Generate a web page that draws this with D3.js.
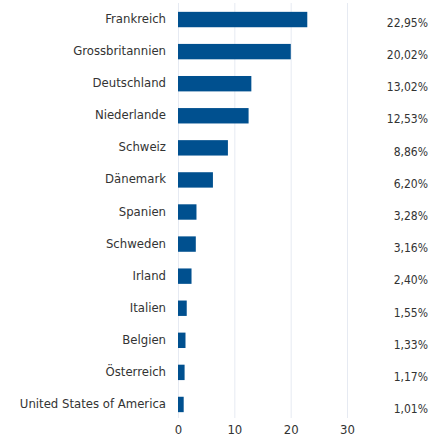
<!DOCTYPE html>
<html>
<head>
<meta charset="utf-8">
<script src="https://cdn.jsdelivr.net/npm/d3@7"></script>
<style>
  body { margin: 0; background: #fff; }
  text { font-family: "DejaVu Sans Condensed", "DejaVu Sans", sans-serif; }
</style>
</head>
<body>
<div id="graph"></div>
<script>
var countries = ["Frankreich", "Grossbritannien", "Deutschland", "Niederlande", "Schweiz", "Dänemark",
  "Spanien", "Schweden", "Irland", "Italien", "Belgien", "Österreich", "United States of America"];
var shares = [22.95, 20.02, 13.02, 12.53, 8.86, 6.20, 3.28, 3.16, 2.40, 1.55, 1.33, 1.17, 1.01];
var shareLabels = ["22,95%", "20,02%", "13,02%", "12,53%", "8,86%", "6,20%", "3,28%", "3,16%",
  "2,40%", "1,55%", "1,33%", "1,17%", "1,01%"];
var xTicks = [0, 10, 20, 30];

var width = 440, height = 438;

var x = d3.scaleLinear()
    .domain([0, 30])
    .range([178, 347]);
var y = d3.scaleBand()
    .domain(countries)
    .range([3.5, 420.5])
    .paddingInner(0.52)
    .paddingOuter(0.26);
// percentage column sits a little lower than the bars
var yLab = d3.scalePoint()
    .domain(countries)
    .range([22.5, 409]);

var svg = d3.select("#graph").append("svg")
    .attr("width", width)
    .attr("height", height);

svg.append("g")
    .selectAll("line")
    .data(xTicks)
  .enter().append("line")
    .attr("x1", function(d) { return x(d) + 0.5; })
    .attr("x2", function(d) { return x(d) + 0.5; })
    .attr("y1", 3)
    .attr("y2", 418)
    .style("stroke", "#e6eaf2")
    .style("stroke-width", 1);

svg.append("g")
    .selectAll("rect")
    .data(countries)
  .enter().append("rect")
    .attr("x", x(0))
    .attr("y", function(d) { return y(d); })
    .attr("width", function(d, i) { return x(shares[i]) - x(0); })
    .attr("height", y.bandwidth())
    .style("fill", "#00508f");

svg.append("g")
    .selectAll("text")
    .data(countries)
  .enter().append("text")
    .attr("x", 166)
    .attr("y", function(d) { return y(d) + y.bandwidth() / 2 - 1; })
    .attr("dy", "0.35em")
    .style("text-anchor", "end")
    .style("font-size", "13px")
    .style("fill", "#333")
    .text(function(d) { return d; });

svg.append("g")
    .selectAll("text")
    .data(countries)
  .enter().append("text")
    .attr("x", 428)
    .attr("y", function(d) { return yLab(d); })
    .attr("dy", "0.35em")
    .style("text-anchor", "end")
    .style("font-size", "12px")
    .style("fill", "#333")
    .text(function(d, i) { return shareLabels[i]; });

var xAxis = d3.axisBottom(x).tickValues(xTicks).tickSize(0).tickPadding(0);
var gx = svg.append("g")
    .attr("transform", "translate(0,425)")
    .call(xAxis);
gx.select(".domain").remove();
gx.selectAll("text")
    .attr("dy", "0.71em")
    .style("font-size", "13px")
    .style("fill", "#333");
</script>
</body>
</html>
